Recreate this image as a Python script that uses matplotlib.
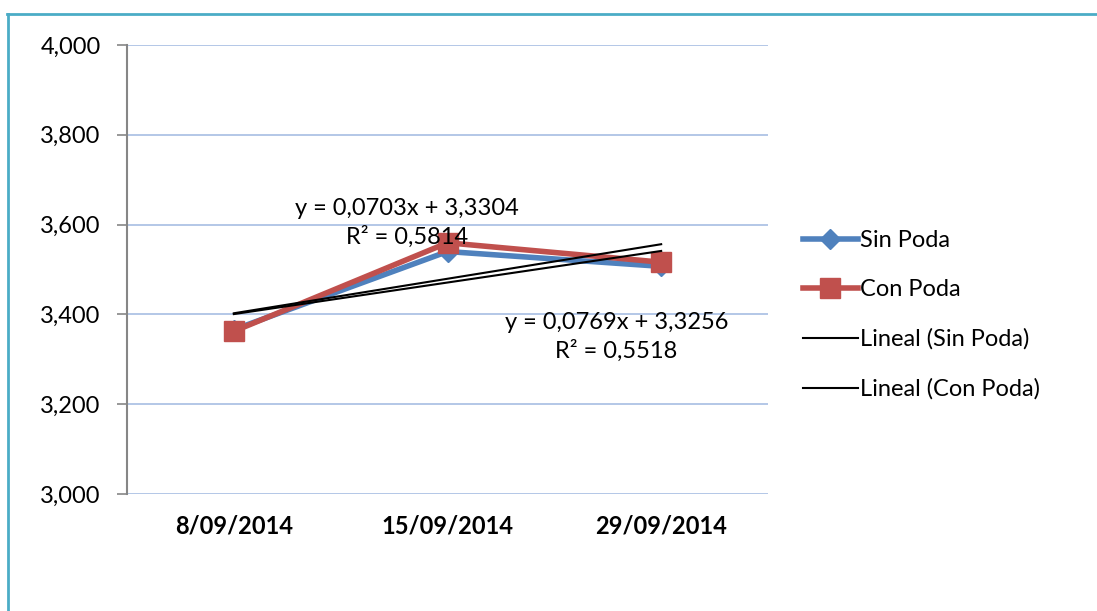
import matplotlib
matplotlib.use("Agg")
import matplotlib.pyplot as plt
from matplotlib.lines import Line2D
import numpy as np

# ---- data ----
categories = ["8/09/2014", "15/09/2014", "29/09/2014"]
sin_poda = [3.366, 3.540, 3.507]
con_poda = [3.3625, 3.5595, 3.5163]
trend_sin = (0.0703, 3.3304)   # slope, intercept (x = 1..3)
trend_con = (0.0769, 3.3256)
label_sin = "y = 0,0703x + 3,3304\nR² = 0,5814"
label_con = "y = 0,0769x + 3,3256\nR² = 0,5518"
yticks = [3.0, 3.2, 3.4, 3.6, 3.8, 4.0]
ytick_labels = ["3,000", "3,200", "3,400", "3,600", "3,800", "4,000"]

plt.rcParams['font.family'] = ['Lato', 'DejaVu Sans']
FS = 17

W, H = 1097, 611
fig = plt.figure(figsize=(W / 100, H / 100), dpi=100)
fig.patch.set_facecolor("white")

# outer border (top and left visible)
border_c = "#4BACC6"
fig.add_artist(Line2D([7 / W, 1.0], [1 - 14 / H, 1 - 14 / H], color=border_c, lw=2,
                      transform=fig.transFigure))
fig.add_artist(Line2D([8 / W, 8 / W], [0, 1 - 14 / H], color=border_c, lw=2,
                      transform=fig.transFigure))

L, R, T, B = 127, 768, 45, 494
ax = fig.add_axes([L / W, 1 - B / H, (R - L) / W, (B - T) / H])

x = np.arange(len(categories))
ax.set_xlim(-0.5, len(categories) - 0.5)
ax.set_ylim(3.0, 4.0)

for yv in yticks:
    ax.axhline(yv, color="#A7BDE3", lw=1.2, zorder=0)

ax.plot(x, sin_poda, color="#4F81BD", lw=4, marker="D", markersize=10,
        markerfacecolor="#4F81BD", markeredgecolor="#4F81BD", zorder=3, label="Sin Poda")
ax.plot(x, con_poda, color="#C0504D", lw=4, marker="s", markersize=15,
        markerfacecolor="#C0504D", markeredgecolor="#C0504D", zorder=4, label="Con Poda")

xt = x + 1
ax.plot(x, trend_sin[0] * xt + trend_sin[1], color="black", lw=1.5, zorder=5,
        label="Lineal (Sin Poda)")
ax.plot(x, trend_con[0] * xt + trend_con[1], color="black", lw=1.5, zorder=5,
        label="Lineal (Con Poda)")

ax.text(0.81, 3.604, label_sin, ha="center", va="center", fontsize=FS,
        linespacing=1.4, zorder=6)
ax.text(1.79, 3.350, label_con, ha="center", va="center", fontsize=FS,
        linespacing=1.4, zorder=6)

ax.set_yticks(yticks)
ax.set_yticklabels(ytick_labels, fontsize=FS)
ax.set_xticks(x)
ax.set_xticklabels(categories, fontsize=FS, fontweight="bold")

for s in ["top", "right", "bottom"]:
    ax.spines[s].set_visible(False)
ax.spines["left"].set_color("#868686")
ax.spines["left"].set_linewidth(1.5)
ax.tick_params(axis="y", length=7, width=1.2, color="#868686", pad=12)
ax.tick_params(axis="x", length=0, pad=15)

leg = ax.legend(loc="center left", bbox_to_anchor=(1.055, 0.399), frameon=False,
                fontsize=FS, handlelength=2.3, handletextpad=0.12, labelspacing=1.2,
                borderaxespad=0, borderpad=0)

fig.savefig("out.png", dpi=100, facecolor="white")
